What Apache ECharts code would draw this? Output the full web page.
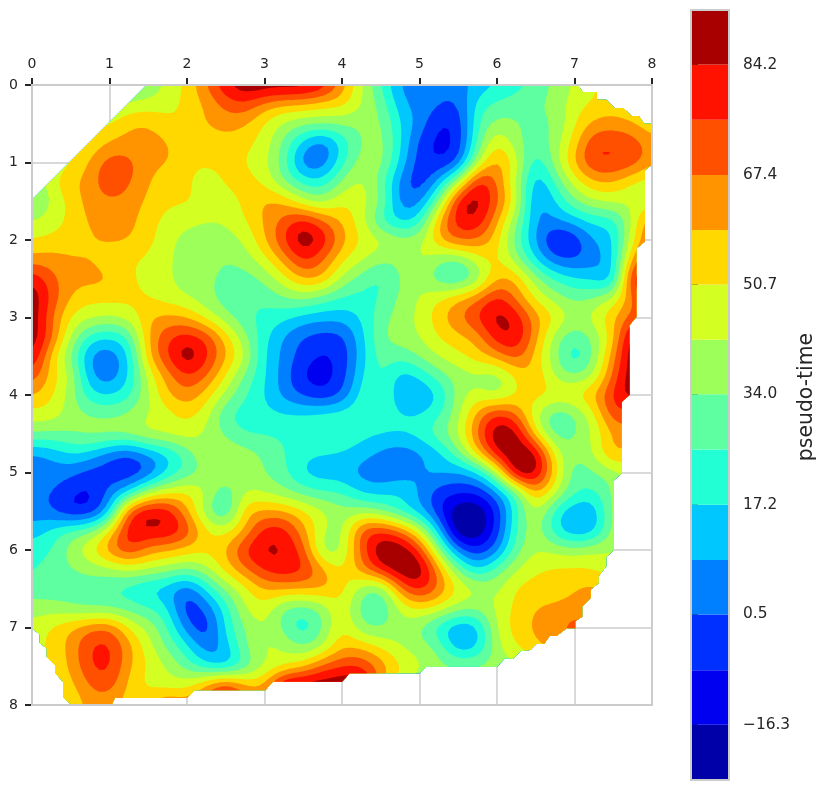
<!DOCTYPE html>
<html>
<head>
<meta charset="utf-8">
<style>html,body{margin:0;padding:0;background:#fff}#chart{width:824px;height:790px}</style>
<script src="https://cdn.jsdelivr.net/npm/echarts@6/dist/echarts.min.js"></script>
</head>
<body>
<div id="chart"></div>
<script>
// Pseudo-time sampled every 0.25 units on both plot axes (rows: y = 0..8, columns: x = 0..8).
const pseudoTime = [
[30,30,30,30,30,30,35,44,53,68,84,92,92,92,92,84,64,43,26,7,4,2,5,12,16,22,28,36,43,50,55,55,55],
[40,40,40,40,40,44,46,48,53,60,70,74,64,59,58,54,53,42,32,12,5,2,-1,21,28,31,33,37,47,52,53,50,50],
[45,45,45,48,50,58,59,53,52,60,63,60,50,41,36,35,35,36,36,17,6,-8,-6,25,37,34,32,34,50,61,64,60,52],
[45,45,48,52,60,62,62,60,52,52,55,53,47,32,14,3,20,34,38,18,-2,-11,-6,28,52,37,28,38,55,75,74,73,62],
[40,44,50,60,72,70,62,60,52,52,52,51,44,30,3,3,23,38,38,15,-4,-7,0,42,63,46,19,38,60,76,76,73,60],
[35,48,58,62,76,68,60,52,52,47,52,54,49,34,23,20,36,45,30,6,-6,12,40,82,66,42,10,27,46,58,59,50,46],
[30,43,53,63,65,64,57,52,52,48,46,53,60,58,44,38,50,45,36,5,6,33,82,88,70,46,6,17,33,42,44,44,44],
[42,47,53,60,65,62,54,48,46,43,44,50,60,70,80,68,58,46,24,15,20,60,80,84,60,36,8,8,13,20,22,44,70],
[51,53,54,58,60,59,53,46,38,36,38,44,58,76,92,82,62,50,45,38,40,58,70,66,54,30,8,-10,-6,10,14,50,70],
[62,63,60,59,54,52,49,45,36,37,34,38,48,62,78,68,52,44,36,36,44,36,32,47,53,37,17,2,0,6,15,62,80],
[84,70,62,62,60,52,48,44,38,36,32,30,36,48,60,58,40,30,23,34,40,28,24,36,59,58,37,25,18,16,12,84,85],
[92,74,58,53,53,53,51,47,43,37,30,27,28,33,36,30,24,23,26,36,43,50,58,66,80,65,49,38,32,35,44,68,85],
[92,68,50,44,42,45,58,61,59,48,37,28,23,20,14,12,12,18,30,38,44,56,66,77,88,82,62,52,39,46,58,70,80],
[92,70,42,22,18,26,59,74,80,74,55,36,20,8,0,-3,-2,14,33,38,42,51,57,62,82,84,62,38,28,36,55,92,90],
[88,55,34,7,3,16,58,76,92,78,60,43,17,7,-4,-9,-5,13,30,28,35,43,48,56,62,72,55,37,18,36,64,92,90],
[74,55,42,10,3,17,45,63,76,68,50,32,18,5,-9,-12,-4,16,28,13,19,30,38,40,38,52,58,40,34,42,70,92,88],
[60,52,38,20,17,23,42,58,65,55,40,26,17,6,-1,-6,1,21,28,10,9,17,38,46,40,52,54,51,52,60,78,90,70],
[47,47,38,34,32,36,42,47,53,46,26,22,20,18,18,20,22,24,22,18,17,24,40,62,78,68,44,27,33,48,74,70,70],
[34,32,34,37,38,38,44,45,47,40,33,25,25,24,24,24,24,20,18,18,21,32,42,69,92,88,53,30,33,44,60,65,65],
[8,12,18,15,5,0,10,17,30,41,40,38,33,26,20,18,17,13,7,3,7,14,32,55,84,92,88,47,36,43,62,55,55],
[1,4,3,-3,-5,-6,0,18,28,37,39,38,34,28,16,12,12,5,3,3,9,11,8,16,42,92,88,54,28,34,38,46,46],
[1,2,-6,-10,4,15,40,48,52,43,28,43,41,36,30,26,25,16,14,18,8,-4,-6,-6,8,30,62,44,28,24,36,46,46],
[5,0,-9,-7,12,72,84,82,60,36,22,57,60,60,52,44,37,38,34,22,12,-6,-24,-24,-6,24,44,22,9,11,38,44,44],
[12,20,28,32,52,82,84,84,74,52,48,60,80,80,62,44,38,72,76,68,46,13,-24,-24,-4,26,40,20,9,13,38,44,44],
[22,25,38,50,64,76,63,60,55,52,59,78,86,84,72,37,42,70,92,92,76,36,4,-6,5,31,42,40,38,42,43,44,44],
[24,30,33,36,40,44,42,38,33,40,54,66,78,82,78,62,50,64,80,92,92,62,33,16,30,42,50,52,52,50,44,44,44],
[30,29,30,30,25,22,15,12,2,19,36,48,60,60,60,60,54,38,32,66,80,66,50,43,40,52,54,54,59,62,60,50,50],
[38,38,35,32,33,30,26,19,-6,3,21,43,48,33,30,36,50,30,26,44,52,48,38,36,44,53,59,61,62,60,55,50,50],
[45,52,58,66,68,50,40,26,4,-6,20,34,43,31,19,34,52,36,33,40,34,20,9,14,44,54,61,65,72,72,60,50,50],
[48,52,62,76,78,62,46,32,20,4,13,34,44,42,34,42,58,57,50,42,38,32,10,16,40,50,57,62,62,60,55,50,50],
[50,52,60,76,78,60,50,42,30,19,13,28,42,48,56,70,76,76,64,52,44,36,36,36,38,40,45,50,50,50,50,50,50],
[50,52,56,68,72,56,48,46,48,62,78,62,60,92,92,92,92,92,60,45,36,36,36,36,36,36,36,36,36,36,36,36,36],
[50,50,52,62,61,55,60,72,65,72,84,70,70,85,85,85,85,80,60,45,36,36,36,36,36,36,36,36,36,36,36,36,36]
];

// Contour levels and the colour of the band between each neighbouring pair.
const levels = [-24.7,-16.3,-8,0.5,8.8,17.2,25.6,34,42.3,50.7,59,67.4,75.8,84.2,92.5];
const bandColors = ['#0000a8','#0000f1','#0030ff','#0080ff','#00c8ff','#23ffd4','#5dffa0','#9dff5a','#d4ff23','#ffd800','#ff9400','#ff5000','#ff1300','#a80000'];
const colorbarTicks = [-16.3,0.5,17.2,34.0,50.7,67.4,84.2];

// Region of the plane the measurements cover, in plot units.
const footprint = [[0,1.48],[1.48,0],[7.04,0],[7.11,.09],[7.29,.09],[7.29,.19],[7.41,.19],[7.52,.30],[7.63,.30],[7.74,.40],[7.83,.40],[7.90,.50],[8,.50],[8,1.03],[7.91,1.10],[7.91,2.02],[7.80,2.11],[7.80,2.99],[7.71,3.10],[7.71,4.0],[7.61,4.09],[7.61,5.01],[7.51,5.10],[7.51,6.0],[7.41,6.09],[7.41,6.21],[7.31,6.34],[7.31,6.43],[7.21,6.51],[7.21,6.62],[7.10,6.73],[7.10,6.86],[7.01,6.92],[7.01,7.01],[6.90,7.01],[6.77,7.11],[6.68,7.11],[6.61,7.21],[6.51,7.21],[6.43,7.29],[6.31,7.30],[6.21,7.40],[6.10,7.40],[6.0,7.505],[5.09,7.505],[5.0,7.59],[4.10,7.59],[4.0,7.70],[3.11,7.70],[3.01,7.81],[2.10,7.81],[2.0,7.91],[1.07,7.91],[1.03,8],[.51,8],[.40,7.9],[.40,7.70],[.30,7.59],[.30,7.49],[.19,7.38],[.19,7.27],[.10,7.2],[.10,7.09],[0,7.01]];

// Cubic resampling so the traced contours run smoothly between samples.
const SUB = 4;
function cubic(a, b, c, d, t) {
  return b + 0.5 * t * (c - a + t * (2 * a - 5 * b + 4 * c - d + t * (3 * (b - c) + d - a)));
}
function resample(line) {
  const out = [], n = line.length - 1;
  for (let i = 0; i < n; i++) {
    for (let s = 0; s < SUB; s++) {
      out.push(cubic(line[Math.max(i - 1, 0)], line[i], line[i + 1], line[Math.min(i + 2, n)], s / SUB));
    }
  }
  out.push(line[n]);
  return out;
}
// Light binomial smoothing rounds off the corners a coarse sampling leaves in the contours.
function soften(line) {
  const n = line.length - 1;
  return line.map((_, i) => {
    const at = k => line[Math.min(n, Math.max(0, k))];
    return (at(i - 2) + 4 * at(i - 1) + 6 * at(i) + 4 * at(i + 1) + at(i + 2)) / 16;
  });
}
function softenAll(line) { return soften(soften(soften(line))); }

const byRow = pseudoTime.map(resample).map(softenAll);
const columns = byRow[0].map((_, i) => softenAll(resample(byRow.map(r => r[i]))));
const field = columns[0].map((_, j) => columns.map(c => c[j]));
const step = 0.25 / SUB;
const N = field.length - 1;

// Clip one triangle of the field to v >= level; returns the kept polygon.
function clipTriangle(tri, level) {
  const out = [];
  for (let i = 0; i < 3; i++) {
    const p = tri[i], q = tri[(i + 1) % 3];
    const pIn = p[2] >= level, qIn = q[2] >= level;
    if (pIn) out.push(p);
    if (pIn !== qIn) {
      const t = (level - p[2]) / (q[2] - p[2]);
      out.push([p[0] + t * (q[0] - p[0]), p[1] + t * (q[1] - p[1]), level]);
    }
  }
  return out;
}

// Path of the region where the field is at or above a level.
function regionPath(level, api) {
  const parts = [];
  const emit = poly => {
    poly.forEach((p, i) => {
      const c = api.coord([p[0] * step, p[1] * step]);
      parts.push((i ? 'L' : 'M') + c[0].toFixed(2) + ' ' + c[1].toFixed(2));
    });
    parts.push('Z');
  };
  for (let j = 0; j < N; j++) {
    let run = -1;
    for (let i = 0; i <= N; i++) {
      const full = i < N && field[j][i] >= level && field[j][i + 1] >= level && field[j + 1][i] >= level && field[j + 1][i + 1] >= level;
      if (full) { if (run < 0) run = i; continue; }
      if (run >= 0) { emit([[run, j], [i, j], [i, j + 1], [run, j + 1]]); run = -1; }
      if (i === N) break;
      const a = [i, j, field[j][i]], b = [i + 1, j, field[j][i + 1]], c = [i + 1, j + 1, field[j + 1][i + 1]], d = [i, j + 1, field[j + 1][i]];
      [[a, b, c], [a, c, d]].forEach(t => {
        const poly = clipTriangle(t, level);
        if (poly.length > 2) emit(poly);
      });
    }
  }
  return parts.join('');
}

function renderContours(params, api) {
  return {
    type: 'group',
    clipPath: { type: 'polygon', shape: { points: footprint.map(p => api.coord(p)) } },
    // The lowest band is the backdrop, so every deeper value still takes its colour.
    children: bandColors.map((color, k) => ({
      type: 'path',
      shape: { pathData: regionPath(k === 0 ? -Infinity : levels[k], api) },
      style: { fill: color }
    }))
  };
}

function renderFrame(params, api) {
  const a = api.coord([api.value(0), api.value(1)]);
  const b = api.coord([api.value(2), api.value(3)]);
  return {
    type: 'rect',
    shape: { x: a[0], y: a[1], width: b[0] - a[0], height: b[1] - a[1] },
    style: { fill: 'none', stroke: '#cccccc', lineWidth: 2 }
  };
}

function renderBand(params, api) {
  const a = api.coord([0, api.value(1)]);
  const b = api.coord([1, api.value(0)]);
  return {
    type: 'rect',
    shape: { x: a[0], y: a[1], width: b[0] - a[0], height: b[1] - a[1] },
    style: { fill: bandColors[params.dataIndex] }
  };
}

const inkColor = '#262626';
const plotAxis = {
  type: 'value', min: 0, max: 8, interval: 1, gridIndex: 0,
  axisLine: { show: false },
  axisTick: { show: true, length: 7, lineStyle: { color: inkColor, width: 2 } },
  axisLabel: { show: true, color: inkColor, fontFamily: 'DejaVu Sans', fontSize: 14, margin: 14 },
  splitLine: { show: true, lineStyle: { color: '#cccccc', width: 1.5 } }
};

const chart = echarts.init(document.getElementById('chart'), null, { renderer: 'canvas' });
chart.setOption({
  animation: false,
  backgroundColor: '#ffffff',
  grid: [
    { left: 32, top: 85, width: 620, height: 620 },
    { left: 691, top: 10, width: 38, height: 770 }
  ],
  xAxis: [
    Object.assign({}, plotAxis, { position: 'top' }),
    { type: 'value', gridIndex: 1, min: 0, max: 1, show: false }
  ],
  yAxis: [
    Object.assign({}, plotAxis, { inverse: true, position: 'left' }),
    {
      type: 'value', gridIndex: 1, position: 'right', min: levels[0], max: levels[levels.length - 1],
      name: 'pseudo-time', nameLocation: 'middle', nameGap: 68, nameRotate: 90,
      nameTextStyle: { color: inkColor, fontFamily: 'DejaVu Sans', fontSize: 20.4, padding: [0, 4, 0, 0] },
      axisLine: { show: false },
      splitLine: { show: false },
      axisTick: { show: true, length: 7, customValues: colorbarTicks, lineStyle: { color: inkColor, width: 2 } },
      axisLabel: {
        show: true, color: inkColor, fontFamily: 'DejaVu Sans', fontSize: 15.4, margin: 14, padding: [3, 0, 0, 0],
        customValues: colorbarTicks,
        formatter: v => v.toFixed(1).replace('-', '\u2212')
      }
    }
  ],
  series: [
    { type: 'custom', xAxisIndex: 0, yAxisIndex: 0, z: 2, silent: true, clip: false, data: [[0, 0]], renderItem: renderContours },
    { type: 'custom', xAxisIndex: 0, yAxisIndex: 0, z: 3, silent: true, clip: false, data: [[0, 0, 8, 8]], renderItem: renderFrame },
    { type: 'custom', xAxisIndex: 1, yAxisIndex: 1, z: 2, silent: true, clip: false,
      data: bandColors.map((_, k) => [levels[k], levels[k + 1]]), renderItem: renderBand },
    { type: 'custom', xAxisIndex: 1, yAxisIndex: 1, z: 3, silent: true, clip: false,
      data: [[0, levels[14], 1, levels[0]]], renderItem: renderFrame }
  ]
});
</script>
</body>
</html>
